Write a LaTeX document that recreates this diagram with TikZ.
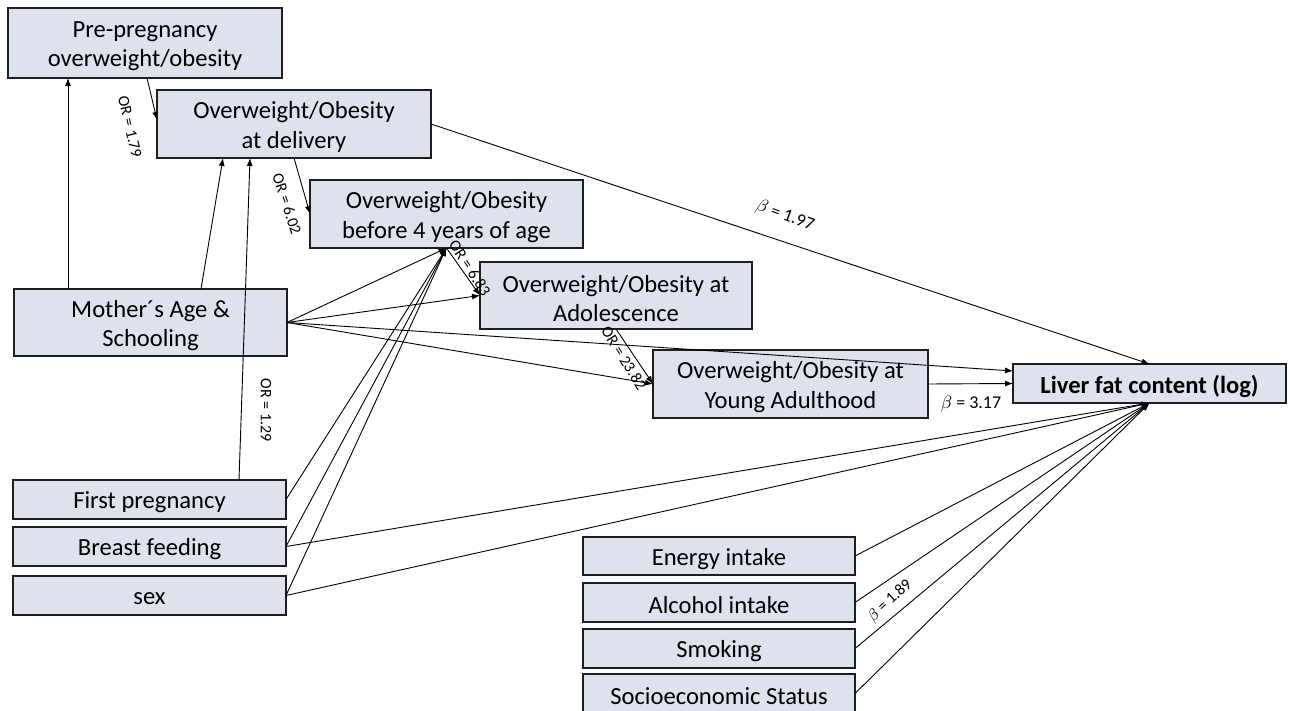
\documentclass[tikz,border=0pt]{standalone}
\usepackage{fontspec}
\setmainfont{Carlito}
\usetikzlibrary{arrows.meta}
\definecolor{boxfill}{RGB}{221,226,236}
\definecolor{boxline}{RGB}{30,30,30}
\begin{document}
\begin{tikzpicture}[x=0.5pt,y=-0.5pt,
  box/.style={draw=boxline, line width=0.85pt, fill=boxfill, inner sep=0pt, outer sep=0pt},
  txt/.style={font=\fontsize{12.3}{14.6}\selectfont, align=center, inner sep=0pt, yshift=-1.5pt},
  bt/.style={label={[txt]center:#1}},
  arr/.style={-{Latex[length=4pt,width=3pt]}, line width=0.45pt},
  lab/.style={font=\fontsize{8}{9}\selectfont, inner sep=0pt},
  blab/.style={font=\fontsize{9}{10}\selectfont, inner sep=0pt}]
\useasboundingbox (0,0) rectangle (1290,711);
% boxes
\node[box, minimum width=137pt, minimum height=35pt, bt={Pre-pregnancy\\overweight/obesity}] (pre) at (145,43) {};
\node[box, minimum width=137pt, minimum height=34pt, bt={Overweight/Obesity\\at delivery}] (del) at (294,124) {};
\node[box, minimum width=136.5pt, minimum height=34pt, bt={Overweight/Obesity\\before 4 years of age}] (b4) at (446.5,214) {};
\node[box, minimum width=136pt, minimum height=33.5pt, bt={Overweight/Obesity at\\Adolescence}] (ado) at (616,295.5) {};
\node[box, minimum width=137.5pt, minimum height=34pt, bt={Overweight/Obesity at\\Young Adulthood}] (ya) at (790.5,384) {};
\node[box, minimum width=136.5pt, minimum height=19.5pt, bt={\bfseries Liver fat content (log)}] (liver) at (1149.5,383.5) {};
\node[box, minimum width=136.5pt, minimum height=33.5pt, bt={Mother´s Age \&\\Schooling}] (mom) at (150.5,322.5) {};
\node[box, minimum width=136.5pt, minimum height=19.5pt, bt={First pregnancy}] (first) at (149.5,499.5) {};
\node[box, minimum width=136.5pt, minimum height=19.5pt, bt={Breast feeding}] (breast) at (149.5,546.5) {};
\node[box, minimum width=136.5pt, minimum height=19.5pt, bt={sex}] (sex) at (149.5,595.5) {};
\node[box, minimum width=136pt, minimum height=19pt, bt={Energy intake}] (energy) at (719,556) {};
\node[box, minimum width=136pt, minimum height=19.5pt, bt={Alcohol intake}] (alcohol) at (719,602.5) {};
\node[box, minimum width=136pt, minimum height=19.5pt, bt={Smoking}] (smoking) at (719,648.5) {};
\node[box, minimum width=136pt, minimum height=19.5pt, bt={Socioeconomic Status}] (socio) at (719,693.5) {};
% connectors
\draw[arr] (mom.north -| 68,0) -- (pre.south -| 68,0);
\draw[arr] (mom.north -| 201,0) -- (del.south -| 223,0);
\draw[arr] (first.north -| 239,0) -- (del.south -| 250,0);
\draw[arr] (pre.south -| 147,0) -- (del.west |- 0,120);
\draw[arr] (del.south) -- (b4.west);
\draw[arr] (b4.south) -- (ado.west);
\draw[arr] (ado.south) -- (ya.west);
\draw[arr] (del.east) -- (liver.north);
\draw[arr] (mom.east) -- (b4.south);
\draw[arr] (mom.east) -- (ado.west);
\draw[arr] (mom.east) -- (ya.west);
\draw[arr] (mom.east) -- (liver.west |- 0,371);
\draw[arr] (ya.east) -- (liver.west);
\draw[arr] (first.east) -- (b4.south);
\draw[arr] (breast.east) -- (b4.south);
\draw[arr] (sex.east) -- (b4.south);
\draw[arr] (breast.east) -- (liver.south);
\draw[arr] (sex.east) -- (liver.south);
\draw[arr] (energy.east) -- (liver.south);
\draw[arr] (alcohol.east) -- (liver.south);
\draw[arr] (smoking.east) -- (liver.south);
\draw[arr] (socio.east) -- (liver.south);
% labels
\node[lab, rotate=-77] (l179) at (130,127) {OR = 1.79};
\node[lab, rotate=-72] (l602) at (287,204) {OR = 6.02};
\node[lab, rotate=-57] (l683) at (470,268) {OR = 6.83};
\node[lab, rotate=-58] (l2382) at (624,358) {OR = 23.82};
\node[lab, rotate=-90] (l129) at (266,410) {OR = 1.29};
\node[blab, rotate=-20] (b197) at (785,216) {$\beta$ = 1.97};
\node[blab] (b317) at (971,404) {$\beta$ = 3.17};
\node[lab, rotate=43] (b189) at (890,601) {$\beta$ = 1.89};
\end{tikzpicture}
\end{document}
